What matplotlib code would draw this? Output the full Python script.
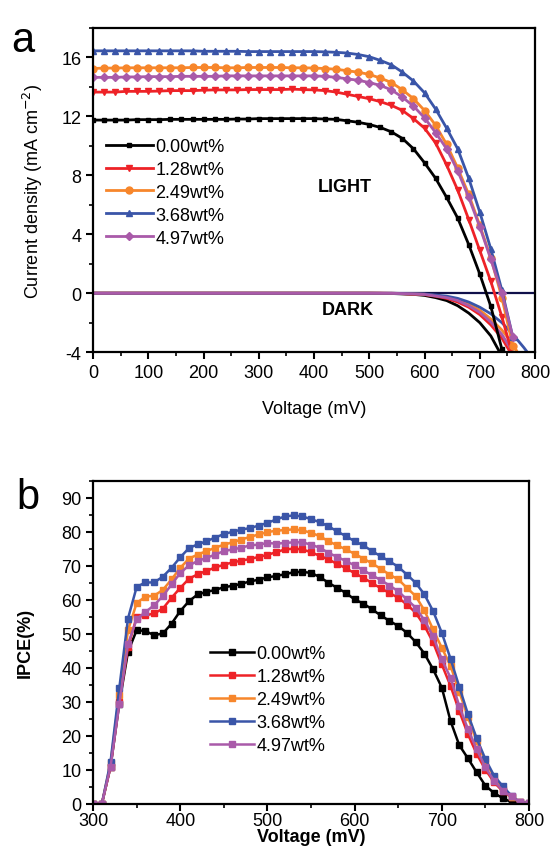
import matplotlib
matplotlib.use('Agg')
import numpy as np
import matplotlib.pyplot as plt
from matplotlib.ticker import MultipleLocator

plt.rcParams['font.family'] = ['Liberation Sans', 'DejaVu Sans']
plt.rcParams['axes.unicode_minus'] = False

# ---- panel a: J-V curves (light, every 20 mV) ----
v_light = list(range(0, 761, 20))
j_000 = [11.75, 11.75, 11.75, 11.75, 11.78, 11.78, 11.78, 11.8, 11.8, 11.8,
         11.8, 11.8, 11.8, 11.82, 11.82, 11.85, 11.85, 11.85, 11.85, 11.85,
         11.85, 11.82, 11.8, 11.7, 11.6, 11.45, 11.25, 10.95, 10.5, 9.8,
         8.85, 7.8, 6.5, 5.1, 3.3, 1.3, -0.9, -3.8, -7.0]
j_128 = [13.65, 13.65, 13.65, 13.7, 13.7, 13.7, 13.72, 13.75, 13.75, 13.75,
         13.78, 13.8, 13.8, 13.8, 13.82, 13.82, 13.82, 13.82, 13.85, 13.82,
         13.8, 13.75, 13.65, 13.5, 13.35, 13.2, 13.0, 12.75, 12.4, 11.85,
         11.2, 10.2, 8.7, 7.0, 5.0, 2.9, 0.8, -1.6, -4.3]
j_249 = [15.25, 15.28, 15.28, 15.3, 15.3, 15.3, 15.3, 15.3, 15.3, 15.32,
         15.32, 15.32, 15.3, 15.3, 15.32, 15.32, 15.32, 15.32, 15.3, 15.3,
         15.28, 15.25, 15.2, 15.1, 15.0, 14.85, 14.6, 14.3, 13.8, 13.2,
         12.4, 11.4, 10.1, 8.5, 6.7, 4.6, 2.4, -0.3, -3.6]
j_368 = [16.45, 16.45, 16.45, 16.45, 16.45, 16.45, 16.45, 16.45, 16.45, 16.45,
         16.42, 16.42, 16.42, 16.42, 16.4, 16.4, 16.4, 16.4, 16.4, 16.4,
         16.4, 16.38, 16.35, 16.3, 16.2, 16.05, 15.8, 15.5, 15.0, 14.4,
         13.6, 12.5, 11.2, 9.8, 7.8, 5.5, 3.0, 0.2, -3.0]
j_497 = [14.65, 14.65, 14.65, 14.68, 14.68, 14.7, 14.7, 14.7, 14.72, 14.72,
         14.72, 14.72, 14.75, 14.75, 14.75, 14.75, 14.75, 14.75, 14.75, 14.75,
         14.75, 14.72, 14.65, 14.55, 14.45, 14.3, 14.1, 13.8, 13.3, 12.7,
         11.9, 10.9, 9.8, 8.3, 6.5, 4.5, 2.3, 0.0, -3.0]

# dark curves (no markers)
v_dark_000 = [0, 500, 540, 580, 600, 620, 640, 660, 680, 700, 720, 736]
jd_000 = [0, 0, -0.02, -0.08, -0.15, -0.3, -0.5, -0.85, -1.35, -2.0, -2.9, -4.0]
v_dark_128 = [0, 520, 560, 600, 620, 640, 660, 680, 700, 720, 740, 755]
jd_128 = [0, 0, -0.03, -0.1, -0.2, -0.35, -0.6, -0.95, -1.45, -2.15, -3.05, -4.0]
v_dark_249 = [0, 540, 600, 640, 660, 680, 700, 720, 740, 760, 768]
jd_249 = [0, 0, -0.07, -0.25, -0.45, -0.75, -1.15, -1.75, -2.5, -3.45, -4.0]
v_dark_368 = [0, 540, 600, 640, 660, 680, 700, 720, 740, 760, 780, 786]
jd_368 = [0, 0, -0.05, -0.2, -0.35, -0.6, -0.95, -1.4, -2.0, -2.8, -3.7, -4.0]
v_dark_497 = [0, 540, 600, 640, 660, 680, 700, 720, 740, 760]
jd_497 = [0, 0, -0.08, -0.3, -0.5, -0.85, -1.3, -1.95, -2.8, -4.0]

# ---- panel b: IPCE (every 10 mV) ----
v_ipce = list(range(300, 801, 10))
ipce_000 = [0, 0, 11, 29.5, 44.7, 51.1, 50.8, 49.6, 50.1, 53.0,
            56.7, 59.6, 61.6, 62.3, 62.9, 63.7, 64.1, 64.7, 65.4, 65.9,
            66.6, 67.0, 67.5, 68.1, 68.2, 67.9, 66.7, 65.0, 63.5, 62.0,
            60.1, 58.9, 57.2, 55.4, 53.8, 52.3, 50.3, 47.6, 44.2, 39.6,
            34.2, 24.4, 17.3, 13.4, 9.3, 5.4, 3.2, 1.7, 0.5, 0.1, 0]
ipce_128 = [0, 0, 11, 30, 46, 55, 55.4, 56, 57.4, 60.6,
            63.5, 66.2, 67.5, 68.5, 69.5, 70.3, 71.0, 71.5, 72.0, 72.6,
            73.2, 74.0, 74.8, 75.0, 74.8, 74.0, 72.9, 71.9, 70.5, 69.3,
            67.8, 66.5, 64.9, 63.4, 62.0, 60.6, 58.6, 56.2, 52.4, 47.5,
            41.0, 34.7, 27.3, 20.5, 14.7, 10.1, 6.4, 3.7, 2.0, 0.5, 0.2]
ipce_249 = [0, 0, 12, 32, 51, 59.1, 60.9, 61.2, 62.9, 66.0,
            69.4, 72.1, 73.3, 74.3, 75.3, 76.2, 76.9, 77.7, 78.5, 79.2,
            79.9, 80.3, 80.5, 80.7, 80.4, 79.7, 78.7, 77.2, 76.0, 74.8,
            73.5, 72.1, 70.7, 69.1, 67.4, 66.0, 63.5, 61.1, 56.9, 51.3,
            45.9, 40.6, 33.0, 25.5, 18.5, 12.5, 8.0, 4.5, 2.0, 0.5, 0]
ipce_368 = [0, 0, 12.4, 34, 54.5, 63.8, 65.1, 65.1, 66.8, 69.4,
            72.5, 75.2, 76.3, 77.2, 78.3, 79.3, 80.0, 80.6, 81.1, 81.8,
            82.6, 83.6, 84.5, 84.8, 84.5, 83.7, 82.8, 81.6, 80.1, 78.7,
            77.2, 76.0, 74.3, 72.8, 71.3, 69.7, 67.4, 65.0, 61.6, 56.7,
            50.3, 42.7, 34.5, 26.4, 19.3, 13.2, 8.3, 5.2, 2.4, 0.5, 0.2]
ipce_497 = [0, 0, 11, 29.3, 47, 54.3, 56.4, 58.4, 61.1, 64.5,
            67.9, 70.1, 71.4, 72.3, 73.3, 74.3, 74.8, 75.3, 76.0, 76.2,
            76.7, 76.5, 76.7, 76.9, 76.9, 76.2, 75.3, 73.8, 72.6, 71.4,
            70.1, 68.7, 67.2, 65.8, 64.2, 62.5, 60.1, 57.7, 54.0, 49.3,
            42.5, 37.1, 28.8, 22.0, 16.1, 10.8, 6.8, 3.9, 2.2, 0.5, 0.2]

labels = ['0.00wt%', '1.28wt%', '2.49wt%', '3.68wt%', '4.97wt%']
colors = ['#000000', '#ee2227', '#f7862b', '#3a55a8', '#a95aa9']
markers_a = ['s', 'v', 'o', '^', 'D']
msize_a = [3.5, 5, 5, 5, 4.5]

fig = plt.figure(figsize=(5.51, 8.53), dpi=100)
ax1 = fig.add_axes([0.169, 0.586, 0.802, 0.380])
ax2 = fig.add_axes([0.169, 0.0563, 0.791, 0.379])

# dark curves first
dark_v = [v_dark_000, v_dark_128, v_dark_249, v_dark_368, v_dark_497]
dark_j = [jd_000, jd_128, jd_249, jd_368, jd_497]
for vv, jj, c in zip(dark_v, dark_j, colors):
    ax1.plot(vv, jj, color=c, lw=2)
ax1.axhline(0, color='#10104a', lw=1.6, zorder=1)

light = [j_000, j_128, j_249, j_368, j_497]
for jj, c, m, ms, lab in zip(light, colors, markers_a, msize_a, labels):
    ax1.plot(v_light, jj, color=c, lw=2, marker=m, ms=ms, label=lab)

ax1.set_xlim(0, 800)
ax1.set_ylim(-4, 18)
ax1.xaxis.set_major_locator(MultipleLocator(100))
ax1.xaxis.set_minor_locator(MultipleLocator(50))
ax1.yaxis.set_major_locator(MultipleLocator(4))
ax1.yaxis.set_minor_locator(MultipleLocator(2))
ax1.set_xlabel('Voltage (mV)', fontsize=13, labelpad=14)
ax1.set_ylabel('Current density (mA cm$^{-2}$)', fontsize=13, labelpad=12)
ax1.text(0.57, 0.512, 'LIGHT', transform=ax1.transAxes, fontsize=13,
         fontweight='bold', ha='center', va='center')
ax1.text(0.577, 0.133, 'DARK', transform=ax1.transAxes, fontsize=13,
         fontweight='bold', ha='center', va='center')
ax1.legend(loc='upper left', bbox_to_anchor=(0.0, 0.70), frameon=False,
           fontsize=13, handlelength=2.6, handletextpad=0.15,
           labelspacing=0.33, borderaxespad=0.3)

markers_b = 's'
for yy, c, lab in zip([ipce_000, ipce_128, ipce_249, ipce_368, ipce_497], colors, labels):
    ax2.plot(v_ipce, yy, color=c, lw=1.8, marker=markers_b, ms=5, label=lab)

ax2.set_xlim(300, 800)
ax2.set_ylim(0, 95)
ax2.xaxis.set_major_locator(MultipleLocator(100))
ax2.xaxis.set_minor_locator(MultipleLocator(50))
ax2.yaxis.set_major_locator(MultipleLocator(10))
ax2.yaxis.set_minor_locator(MultipleLocator(5))
ax2.set_ylabel('IPCE(%)', fontsize=13, fontweight='bold', labelpad=20)
ax2.legend(loc='upper left', bbox_to_anchor=(0.24, 0.53), frameon=False,
           fontsize=13, handlelength=2.4, handletextpad=0.15,
           labelspacing=0.33, borderaxespad=0.3)

for ax in (ax1, ax2):
    for s in ax.spines.values():
        s.set_linewidth(1.6)
    ax.tick_params(which='major', direction='out', length=5, width=1.5,
                   labelsize=13, top=False, right=False)
    ax.tick_params(which='minor', direction='out', length=3, width=1.2,
                   top=False, right=False)
ax2.tick_params(axis='x', which='major', pad=1)
ax2.set_xlabel('Voltage (mV)', fontsize=13, fontweight='bold', labelpad=-1)

fig.text(0.02, 0.975, 'a', fontsize=30, va='top', ha='left')
fig.text(0.03, 0.44, 'b', fontsize=30, va='top', ha='left')

fig.savefig('out.png', dpi=100)
